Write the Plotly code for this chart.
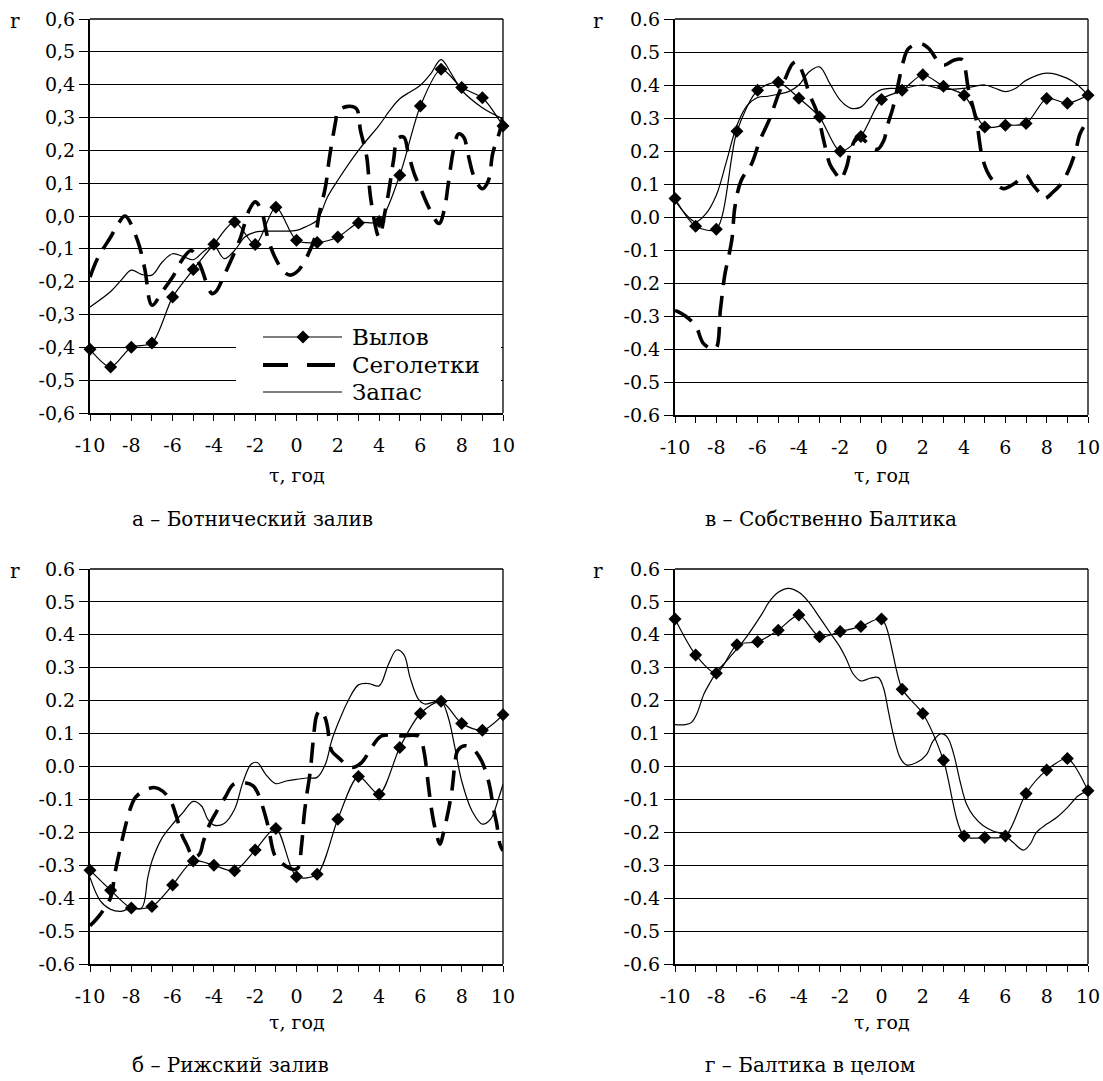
import plotly.graph_objects as go

W, H = 1103, 1081
FONT = "DejaVu Serif"

# ---------------- data ----------------
TAU = list(range(-10, 11))
Y_TICKS = [-0.6, -0.5, -0.4, -0.3, -0.2, -0.1, 0.0, 0.1, 0.2, 0.3, 0.4, 0.5, 0.6]
Y_LABELS_COMMA = ["-0,6", "-0,5", "-0,4", "-0,3", "-0,2", "-0,1", "0,0", "0,1", "0,2", "0,3", "0,4", "0,5", "0,6"]
Y_LABELS_DOT = ["-0.6", "-0.5", "-0.4", "-0.3", "-0.2", "-0.1", "0.0", "0.1", "0.2", "0.3", "0.4", "0.5", "0.6"]
X_LABELS = ["-10", "", "-8", "", "-6", "", "-4", "", "-2", "", "0", "", "2", "", "4", "", "6", "", "8", "", "10"]
SERIES_NAMES = ["Вылов", "Сеголетки", "Запас"]
CAPTIONS = ["а – Ботнический залив", "в – Собственно Балтика", "б – Рижский залив", "г – Балтика в целом"]
X_TITLE = "τ, год"

# Panel а – Ботнический залив
a_catch = [-0.406, -0.46, -0.40, -0.387, -0.247, -0.163, -0.086, -0.018, -0.087, 0.027, -0.074,
           -0.081, -0.064, -0.021, -0.017, 0.124, 0.335, 0.447, 0.391, 0.36, 0.274]
a_stock_tau = [-10, -9, -8.5, -8, -7.5, -7, -6.5, -6, -5.5, -5, -4.5, -4, -3.5, -3, -2.5, -2, -1, 0,
               0.5, 1, 1.5, 2, 3, 4, 4.5, 5, 5.5, 6, 6.5, 7, 7.5, 8, 9, 10]
a_stock = [-0.277, -0.23, -0.196, -0.165, -0.178, -0.18, -0.14, -0.115, -0.123, -0.133, -0.108, -0.09,
           -0.13, -0.105, -0.064, -0.049, -0.046, -0.044, -0.031, -0.013, 0.058, 0.109, 0.2, 0.276,
           0.32, 0.357, 0.378, 0.398, 0.433, 0.476, 0.433, 0.383, 0.33, 0.296]
a_young_tau = [-10, -9.6, -9, -8.6, -8.3, -7.7, -7.35, -7, -6.5, -6, -5.5, -5.1, -4.7, -4.1, -3.9, -3.5,
               -3.1, -2.7, -2.3, -2, -1.7, -1.4, -1.05, -0.6, -0.3, 0.1, 0.5, 0.9, 1.1, 1.4, 1.6, 1.9,
               2.0, 2.5, 2.9, 3.1, 3.4, 3.6, 4.0, 4.3, 4.5, 4.7, 4.9, 5.2, 5.4, 5.7, 6.05, 6.4, 6.9,
               7.15, 7.35, 7.6, 7.85, 8.1, 8.3, 8.6, 9.0, 9.3, 9.5, 9.85, 10]
a_young = [-0.186, -0.125, -0.064, -0.02, 0.0, -0.074, -0.16, -0.272, -0.23, -0.186, -0.13, -0.105,
           -0.145, -0.236, -0.23, -0.18, -0.125, -0.064, 0.017, 0.043, 0.017, -0.064, -0.125, -0.17,
           -0.18, -0.165, -0.125, -0.064, 0.007, 0.088, 0.18, 0.29, 0.32, 0.334, 0.327, 0.26, 0.18,
           0.05, -0.064, 0.017, 0.088, 0.17, 0.236, 0.24, 0.195, 0.129, 0.078, 0.027, -0.023, 0.017,
           0.098, 0.2, 0.25, 0.24, 0.19, 0.12, 0.083, 0.109, 0.19, 0.26, 0.31]

# Panel в – Собственно Балтика
v_catch = [0.056, -0.028, -0.037, 0.26, 0.384, 0.408, 0.36, 0.303, 0.199, 0.244, 0.356,
           0.384, 0.431, 0.396, 0.369, 0.273, 0.278, 0.283, 0.359, 0.345, 0.369]
v_stock_tau = [-10, -9.5, -9, -8.5, -8, -7.5, -7, -6.5, -6, -5.5, -5, -4.5, -4, -3.5, -3, -2.5, -2,
               -1.5, -1, -0.5, 0, 0.5, 1, 2, 3, 4, 5, 5.5, 6, 6.5, 7, 8, 9, 9.5, 10]
v_stock = [0.05, 0.01, -0.015, 0.01, 0.066, 0.17, 0.278, 0.338, 0.362, 0.366, 0.372, 0.38, 0.4, 0.44,
           0.455, 0.404, 0.354, 0.33, 0.333, 0.366, 0.386, 0.39, 0.389, 0.4, 0.387, 0.39, 0.4, 0.39,
           0.38, 0.39, 0.414, 0.436, 0.42, 0.4, 0.369]
v_young_tau = [-10, -9.5, -9, -8.6, -8.05, -7.8, -7.6, -7.25, -7.1, -6.8, -6.3, -5.9, -5.4, -5, -4.7,
               -4.3, -4.1, -3.8, -3.5, -3.1, -2.8, -2.5, -2.2, -2, -1.7, -1.5, -1.2, -1.0, -0.6, -0.2,
               0.1, 0.3, 0.55, 0.8, 1.05, 1.3, 1.9, 2.3, 2.7, 3.0, 3.5, 3.9, 4.05, 4.2, 4.6, 4.85, 5.1,
               5.4, 5.9, 6.4, 7.0, 7.3, 7.7, 7.9, 8.3, 8.7, 9.05, 9.4, 9.6, 9.85, 10]
v_young = [-0.283, -0.3, -0.33, -0.385, -0.40, -0.28, -0.18, -0.07, 0.03, 0.11, 0.16, 0.23, 0.30,
           0.37, 0.414, 0.465, 0.47, 0.434, 0.374, 0.313, 0.232, 0.16, 0.13, 0.113, 0.15, 0.2, 0.24,
           0.24, 0.22, 0.205, 0.23, 0.28, 0.33, 0.4, 0.47, 0.51, 0.525, 0.51, 0.475, 0.46, 0.475,
           0.477, 0.45, 0.39, 0.29, 0.19, 0.14, 0.11, 0.086, 0.1, 0.126, 0.1, 0.07, 0.056, 0.075, 0.1,
           0.14, 0.2, 0.25, 0.28, 0.30]

# Panel б – Рижский залив
b_catch = [-0.315, -0.376, -0.43, -0.425, -0.36, -0.287, -0.30, -0.317, -0.254, -0.188, -0.335,
           -0.327, -0.16, -0.03, -0.084, 0.058, 0.161, 0.198, 0.131, 0.11, 0.157]
b_stock_tau = [-10, -9.5, -9, -8.5, -8, -7.5, -7.2, -7, -6.5, -6, -5.5, -5, -4.6, -4.3, -4, -3.5, -3,
               -2.6, -2.2, -1.9, -1.5, -1, -0.5, 0, 0.5, 1, 1.4, 1.7, 2, 2.5, 3, 3.5, 4, 4.45, 4.85,
               5.2, 5.5, 5.9, 6.2, 6.6, 7, 7.35, 7.67, 8, 8.5, 9, 9.4, 9.8, 10]
b_stock = [-0.337, -0.408, -0.434, -0.44, -0.43, -0.43, -0.337, -0.287, -0.216, -0.175, -0.14, -0.106,
           -0.12, -0.16, -0.178, -0.173, -0.13, -0.049, 0.007, 0.012, -0.023, -0.052, -0.044, -0.039,
           -0.035, -0.033, 0.007, 0.078, 0.129, 0.2, 0.248, 0.252, 0.245, 0.31, 0.354, 0.34, 0.27,
           0.205, 0.19, 0.195, 0.2, 0.149, 0.058, -0.044, -0.135, -0.175, -0.16, -0.094, -0.054]
b_young_tau = [-10, -9.5, -9, -8.8, -8.6, -8.3, -8.06, -7.8, -7.4, -6.9, -6.5, -6.1, -5.8, -5.56, -5.3,
               -5.0, -4.7, -4.5, -4.2, -3.9, -3.46, -3.05, -2.57, -2.1, -1.85, -1.6, -1.36, -1.05,
               -0.64, -0.2, 0.05, 0.25, 0.36, 0.5, 0.65, 0.81, 0.97, 1.14, 1.38, 1.5, 1.7, 2.03, 2.67,
               3.15, 3.64, 4.12, 5.1, 5.9, 6.05, 6.2, 6.4, 6.55, 6.7, 6.95, 7.1, 7.5, 7.67, 7.8, 8.15,
               8.55, 8.96, 9.2, 9.37, 9.53, 9.7, 9.85, 10]
b_young = [-0.484, -0.449, -0.398, -0.327, -0.267, -0.185, -0.13, -0.094, -0.074, -0.064, -0.074,
           -0.104, -0.155, -0.206, -0.24, -0.276, -0.266, -0.226, -0.175, -0.14, -0.094, -0.054,
           -0.049, -0.059, -0.084, -0.13, -0.185, -0.27, -0.297, -0.312, -0.31, -0.236, -0.155,
           -0.084, -0.023, 0.078, 0.154, 0.171, 0.149, 0.12, 0.048, 0.027, -0.003, 0.012, 0.058,
           0.093, 0.093, 0.093, 0.078, 0.037, -0.064, -0.135, -0.185, -0.236, -0.206, -0.084, 0.007,
           0.048, 0.063, 0.053, 0.017, -0.023, -0.064, -0.125, -0.175, -0.236, -0.256]

# Panel г – Балтика в целом
g_catch = [0.448, 0.339, 0.283, 0.37, 0.379, 0.414, 0.46, 0.394, 0.41, 0.425, 0.448,
           0.235, 0.161, 0.019, -0.211, -0.216, -0.211, -0.082, -0.011, 0.024, -0.074]
g_stock_tau = [-10, -9.5, -9.2, -8.95, -8.6, -8.3, -8, -7.5, -7, -6.5, -6, -5.7, -5.5, -5, -4.5, -4,
               -3.5, -3, -2.5, -2, -1.7, -1.37, -1, -0.56, -0.15, 0.09, 0.33, 0.57, 0.9, 1.2, 1.7,
               2.19, 2.5, 2.9, 3.2, 3.5, 3.8, 4.12, 4.45, 4.93, 5.4, 5.9, 6.38, 6.87, 7.2, 7.5, 8,
               8.48, 9, 9.53, 10]
g_stock = [0.127, 0.127, 0.134, 0.159, 0.22, 0.255, 0.286, 0.321, 0.357, 0.397, 0.443, 0.473, 0.495,
           0.529, 0.541, 0.529, 0.498, 0.453, 0.407, 0.362, 0.326, 0.281, 0.26, 0.268, 0.27, 0.24,
           0.169, 0.098, 0.027, 0.005, 0.012, 0.037, 0.078, 0.1, 0.088, 0.037, -0.044, -0.115, -0.15,
           -0.18, -0.196, -0.206, -0.231, -0.254, -0.236, -0.2, -0.175, -0.155, -0.125, -0.089, -0.074]

# ---------------- layout helpers ----------------
# pixel boxes of the four plot areas (left, top, right, bottom)
boxes = [(90, 19, 503, 413), (675, 19, 1088, 415), (90, 569, 503, 964), (675, 569, 1088, 964)]

panels = [
    dict(catch=a_catch, stock=(a_stock_tau, a_stock), young=(a_young_tau, a_young), labels=Y_LABELS_COMMA),
    dict(catch=v_catch, stock=(v_stock_tau, v_stock), young=(v_young_tau, v_young), labels=Y_LABELS_DOT),
    dict(catch=b_catch, stock=(b_stock_tau, b_stock), young=(b_young_tau, b_young), labels=Y_LABELS_DOT),
    dict(catch=g_catch, stock=(g_stock_tau, g_stock), young=None, labels=Y_LABELS_DOT),
]


def fx(p):
    return p / W


def fy(p):
    return 1 - p / H


fig = go.Figure()
layout = dict(
    width=W, height=H, margin=dict(l=0, r=0, t=0, b=0, pad=0, autoexpand=False),
    paper_bgcolor="white", plot_bgcolor="white", showlegend=False,
    font=dict(family=FONT, color="black", size=19),
)
shapes = []
annotations = []
tick_font = dict(family=FONT, size=19, color="black")

for i, (p, box) in enumerate(zip(panels, boxes), start=1):
    l, t, r, b = box
    xa, ya = f"x{i}", f"y{i}"
    layout[f"xaxis{i}"] = dict(
        domain=[fx(l), fx(r)], anchor=ya, range=[-10, 10], automargin=False,
        tickmode="array", tickvals=TAU, ticktext=X_LABELS,
        ticks="outside", ticklen=6, tickwidth=1, tickcolor="black", ticklabelstandoff=8,
        showline=True, linecolor="black", linewidth=2,
        showgrid=False, zeroline=False, tickfont=tick_font, fixedrange=True,
    )
    layout[f"yaxis{i}"] = dict(
        domain=[fy(b), fy(t)], anchor=xa, range=[-0.6, 0.6], automargin=False,
        tickmode="array", tickvals=Y_TICKS, ticktext=p["labels"],
        ticks="outside", ticklen=9, tickwidth=1, tickcolor="black",
        showline=True, linecolor="black", linewidth=2,
        showgrid=True, gridcolor="black", gridwidth=1, zeroline=False,
        tickfont=tick_font, fixedrange=True,
    )
    # Запас
    fig.add_trace(go.Scatter(
        x=p["stock"][0], y=p["stock"][1], mode="lines", name=SERIES_NAMES[2],
        line=dict(color="black", width=1.2, shape="spline", smoothing=1.0),
        xaxis=xa, yaxis=ya, cliponaxis=False,
    ))
    # Сеголетки
    if p["young"] is not None:
        fig.add_trace(go.Scatter(
            x=p["young"][0], y=p["young"][1], mode="lines", name=SERIES_NAMES[1],
            line=dict(color="black", width=3.6, dash="20px,11px", shape="spline", smoothing=1.0),
            xaxis=xa, yaxis=ya, cliponaxis=False,
        ))
    # Вылов
    fig.add_trace(go.Scatter(
        x=TAU, y=p["catch"], mode="lines+markers", name=SERIES_NAMES[0],
        line=dict(color="black", width=1.2, shape="spline", smoothing=0.8),
        marker=dict(symbol="diamond", size=10, color="black"),
        xaxis=xa, yaxis=ya, cliponaxis=False,
    ))
    # frame: top and right borders
    shapes.append(dict(type="line", xref="paper", yref="paper", x0=fx(l), x1=fx(r), y0=fy(t), y1=fy(t),
                       line=dict(color="black", width=1.3), layer="above"))
    shapes.append(dict(type="line", xref="paper", yref="paper", x0=fx(r), x1=fx(r), y0=fy(t), y1=fy(b),
                       line=dict(color="black", width=1.3), layer="above"))
    # labels
    cx = (l + r) / 2
    ann_r_x = 15 if l < 300 else 598
    annotations.append(dict(text="r", x=fx(ann_r_x), y=fy(t + 2), xref="paper", yref="paper",
                            xanchor="center", yanchor="middle", showarrow=False,
                            font=dict(family=FONT, size=20, color="black")))
    title_y = 475 if t < 300 else 1022
    annotations.append(dict(text=X_TITLE, x=fx(cx), y=fy(title_y), xref="paper", yref="paper",
                            xanchor="center", yanchor="middle", showarrow=False,
                            font=dict(family=FONT, size=19, color="black")))
    cap_y = 519 if t < 300 else 1065
    cap_x = 130 if l < 300 else 703
    annotations.append(dict(text=CAPTIONS[i - 1], x=fx(cap_x), y=fy(cap_y), xref="paper", yref="paper",
                            xanchor="left", yanchor="middle", showarrow=False,
                            font=dict(family=FONT, size=20, color="black")))

# ---------------- legend inside panel а ----------------
shapes.append(dict(type="rect", xref="paper", yref="paper", x0=fx(236), x1=fx(501), y0=fy(411), y1=fy(322),
                   fillcolor="white", line=dict(width=0), layer="above"))
leg_rows = [337, 365, 392]
shapes.append(dict(type="line", xref="paper", yref="paper", x0=fx(263), x1=fx(342),
                   y0=fy(leg_rows[0]), y1=fy(leg_rows[0]), line=dict(color="black", width=1.2), layer="above"))
d = 6.5
cxp, cyp = 303, leg_rows[0]
shapes.append(dict(type="path", xref="paper", yref="paper",
                   path=f"M {fx(cxp - d)} {fy(cyp)} L {fx(cxp)} {fy(cyp - d)} L {fx(cxp + d)} {fy(cyp)} L {fx(cxp)} {fy(cyp + d)} Z",
                   fillcolor="black", line=dict(color="black", width=0), layer="above"))
shapes.append(dict(type="line", xref="paper", yref="paper", x0=fx(263), x1=fx(288),
                   y0=fy(leg_rows[1]), y1=fy(leg_rows[1]), line=dict(color="black", width=4), layer="above"))
shapes.append(dict(type="line", xref="paper", yref="paper", x0=fx(307), x1=fx(335),
                   y0=fy(leg_rows[1]), y1=fy(leg_rows[1]), line=dict(color="black", width=4), layer="above"))
shapes.append(dict(type="line", xref="paper", yref="paper", x0=fx(263), x1=fx(342),
                   y0=fy(leg_rows[2]), y1=fy(leg_rows[2]), line=dict(color="black", width=1.2), layer="above"))
for name, ry in zip(SERIES_NAMES, leg_rows):
    annotations.append(dict(text=name, x=fx(350), y=fy(ry), xref="paper", yref="paper",
                            xanchor="left", yanchor="middle", showarrow=False,
                            font=dict(family=FONT, size=23, color="black")))

layout["shapes"] = shapes
layout["annotations"] = annotations
fig.update_layout(**layout)
fig.write_html(
    "out.html",
    config={"responsive": False, "displayModeBar": False},
    post_script="document.body.style.margin='0px';document.body.style.padding='0px';document.body.style.overflow='hidden';",
)
